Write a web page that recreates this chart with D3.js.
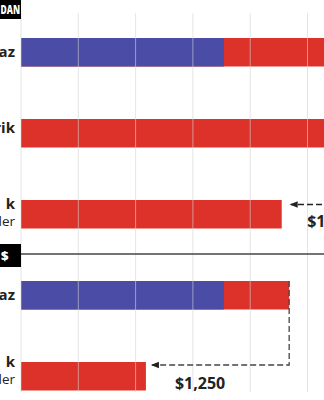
<!DOCTYPE html>
<html><head><meta charset="utf-8">
<script src="https://cdn.jsdelivr.net/npm/d3@7"></script>
<style>html,body{margin:0;padding:0;background:#fff;overflow:hidden}svg{display:block}</style>
</head><body><svg id="c" width="324" height="400"></svg>
<script>
// ---- data ----
const ticks = [0, 500, 1000, 1500, 2000, 2500, 3000];
const upperHeader = "DAN";
const upperCats = ["a", "b", "c"];
const upperLabels = [["az"], ["rik"], ["k", "ler"]];
const upperBlue = [1770, 0, 0];
const upperTotal = [3600, 3600, 2275];
const upperNote = "$1,325";
const lowerHeader = "$";
const lowerCats = ["a", "c"];
const lowerLabels = [["az"], ["k", "ler"]];
const lowerBlue = [1770, 0];
const lowerTotal = [2340, 1090];
const lowerNote = "$1,250";

const BLUE = "#4a4ca6", RED = "#dc3229", INK = "#222";
const svg = d3.select("#c");
const x = d3.scaleLinear().domain([0, 3000]).range([21, 364.8]);

function band(cats, top) {
  const step = 81, bw = 28.5;
  return d3.scaleBand().domain(cats)
    .range([top, top + step * cats.length - (step - bw)])
    .paddingInner((step - bw) / step).paddingOuter(0);
}
const yU = band(upperCats, 38);
const yL = band(lowerCats, 281);

const gBars = svg.append("g");
function drawBars(y, cats, blue, total) {
  cats.forEach((c, i) => {
    gBars.append("rect").attr("x", x(0)).attr("y", y(c))
      .attr("width", x(total[i]) - x(0)).attr("height", y.bandwidth()).attr("fill", RED);
    if (blue[i] > 0)
      gBars.append("rect").attr("x", x(0)).attr("y", y(c))
        .attr("width", x(blue[i]) - x(0)).attr("height", y.bandwidth()).attr("fill", BLUE);
  });
}
drawBars(yU, upperCats, upperBlue, upperTotal);
drawBars(yL, lowerCats, lowerBlue, lowerTotal);

// gridlines over bars
svg.append("g").selectAll("line").data(ticks).join("line")
  .attr("x1", d => x(d)).attr("x2", d => x(d)).attr("y1", 13).attr("y2", 392)
  .attr("stroke", "#d4d4d4").attr("stroke-opacity", 0.6).attr("stroke-width", 1);

// separator
svg.append("line").attr("x1", 20).attr("x2", 324).attr("y1", 254).attr("y2", 254)
  .attr("stroke", "#444").attr("stroke-width", 1.5);

// header boxes
function header(txt, y0, h, tx, fs, len) {
  svg.append("rect").attr("x", -2).attr("y", y0).attr("width", 23).attr("height", h).attr("fill", "#000");
  const t = svg.append("text").attr("x", tx).attr("y", y0 + h / 2 + fs * 0.36).attr("text-anchor", "end")
    .attr("font-family", "Open Sans").attr("font-weight", 800).attr("font-size", fs)
    .attr("fill", "#fff").text(txt);
  if (len) t.attr("textLength", len).attr("lengthAdjust", "spacingAndGlyphs");
}
header(upperHeader, 0, 19, 20, 11.5, 19.5);
header(lowerHeader, 244, 23, 8.5, 13);

// category labels
function labels(y, cats, lbls, twoLineShift, singleShift) {
  cats.forEach((c, i) => {
    const cy = y(c) + y.bandwidth() / 2;
    const L = lbls[i];
    L.forEach((t, j) => {
      const base = L.length === 1 ? cy + 5 + (singleShift[i] || 0) : cy + twoLineShift + j * 17;
      svg.append("text").attr("x", 15).attr("y", base).attr("text-anchor", "end")
        .attr("font-family", "Open Sans").attr("font-weight", j === 0 ? 700 : 400)
        .attr("font-size", j === 0 ? 15 : 13.5).attr("fill", INK).text(t);
    });
  });
}
labels(yU, upperCats, upperLabels, -5, [0, -5, 0]);
labels(yL, lowerCats, lowerLabels, -9, [0, 0]);

const dash = "6,3";
// upper: arrow from off-canvas right to the third bar
const uc = upperCats[2];
const uy = yU(uc) + 4.5;
const utip = x(upperTotal[2]) + 8;
svg.append("line").attr("x1", 340).attr("x2", utip + 1).attr("y1", uy).attr("y2", uy)
  .attr("stroke", INK).attr("stroke-width", 1.3).attr("stroke-dasharray", dash);
svg.append("path").attr("d", `M${utip},${uy}l8,-3.2l0,6.4Z`).attr("fill", INK);
svg.append("text").attr("x", utip + 17.5).attr("y", uy + 22)
  .attr("font-family", "Open Sans").attr("font-weight", 700).attr("font-size", 16)
  .attr("fill", INK).text(upperNote);

// lower: connector from first bar end down to second bar
const lx = x(lowerTotal[0]);
const ly = yL(lowerCats[1]) + 3;
const ltip = x(lowerTotal[1]) + 5;
svg.append("path")
  .attr("d", `M${lx},${yL(lowerCats[0])}L${lx},${ly}L${ltip + 1},${ly}`)
  .attr("fill", "none").attr("stroke", "#444").attr("stroke-width", 1.3).attr("stroke-dasharray", dash);
svg.append("path").attr("d", `M${ltip},${ly}l8,-3.2l0,6.4Z`).attr("fill", INK);
svg.append("text").attr("x", ltip + 24).attr("y", ly + 23.5)
  .attr("font-family", "Open Sans").attr("font-weight", 700).attr("font-size", 16)
  .attr("fill", INK).text(lowerNote);
</script></body></html>
